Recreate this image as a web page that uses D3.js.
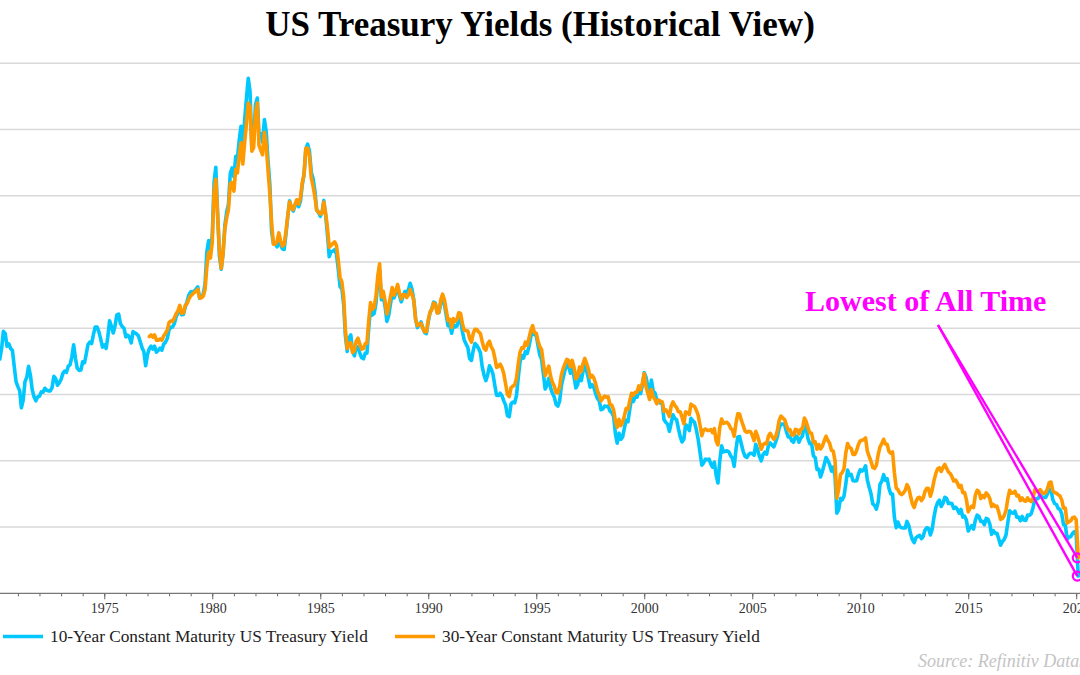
<!DOCTYPE html>
<html>
<head>
<meta charset="utf-8">
<script src="https://cdn.jsdelivr.net/npm/d3@7"></script>
<style>
  html, body { margin: 0; padding: 0; background: #fff; }
  svg { display: block; }
</style>
</head>
<body>
<svg id="chart" width="1080" height="675"></svg>
<script>
// ---------------- DATA ----------------
const titleText = "US Treasury Yields (Historical View)";
const seriesNames = ["10-Year Constant Maturity US Treasury Yield", "30-Year Constant Maturity US Treasury Yield"];
const seriesColors = ["#00c8ff", "#ff9900"];
const annotationText = "Lowest of All Time";
const sourceText = "Source: Refinitiv Datastream";

const tenYearStart = "1970-01-01";   // monthly values from this month
const thirtyYearStart = "1977-02-01"; // monthly values from this month
const lastDate = "2020-02-05";        // final (record-low) reading
const tenYearLast = 0.52;
const thirtyYearLast = 1.07;

const yTicks = [2, 4, 6, 8, 10, 12, 14, 16];
const xMajorYears = [1975, 1980, 1985, 1990, 1995, 2000, 2005, 2010, 2015, 2020];

const tenYear = [
  7.79, 7.24, 7.07, 7.39, 7.91, 7.84, 7.46, 7.53, 7.39, 7.33, 6.84, 6.39, // 1970
  6.24, 6.11, 5.60, 5.83, 6.39, 6.52, 6.85, 6.58, 6.14, 5.93, 5.81, 5.93, // 1971
  5.95, 6.08, 6.07, 6.19, 6.13, 6.11, 6.11, 6.21, 6.55, 6.48, 6.28, 6.36, // 1972
  6.46, 6.64, 6.71, 6.67, 6.85, 6.90, 7.13, 7.50, 7.09, 6.79, 6.73, 6.74, // 1973
  6.99, 6.96, 7.21, 7.51, 7.58, 7.54, 7.81, 8.04, 8.04, 7.90, 7.68, 7.43, // 1974
  7.50, 7.39, 7.73, 8.23, 8.06, 7.86, 8.06, 8.40, 8.43, 8.14, 8.05, 8.00, // 1975
  7.74, 7.79, 7.73, 7.56, 7.90, 7.86, 7.83, 7.77, 7.59, 7.41, 7.29, 6.87, // 1976
  7.21, 7.39, 7.46, 7.37, 7.46, 7.28, 7.33, 7.40, 7.34, 7.52, 7.58, 7.69, // 1977
  7.96, 8.03, 8.04, 8.15, 8.35, 8.46, 8.64, 8.41, 8.42, 8.64, 8.81, 9.01, // 1978
  9.10, 9.10, 9.12, 9.18, 9.25, 8.91, 8.95, 9.03, 9.33, 10.30, 10.65, 10.39, // 1979
  10.80, 12.41, 12.86, 11.47, 10.18, 9.78, 10.25, 11.10, 11.51, 11.75, 12.68, 12.84, // 1980
  12.57, 13.19, 13.12, 13.68, 14.10, 13.47, 14.28, 14.94, 15.55, 15.15, 13.39, 13.72, // 1981
  14.75, 14.95, 13.86, 13.87, 13.62, 14.30, 13.95, 13.06, 12.34, 10.91, 10.55, 10.54, // 1982
  10.46, 10.72, 10.51, 10.40, 10.38, 10.85, 11.38, 11.85, 11.65, 11.54, 11.69, 11.83, // 1983
  11.67, 11.84, 12.32, 12.63, 13.41, 13.56, 13.36, 12.72, 12.52, 12.16, 11.57, 11.50, // 1984
  11.38, 11.51, 11.86, 11.43, 10.85, 10.16, 10.31, 10.33, 10.37, 10.24, 9.78, 9.26, // 1985
  9.19, 8.70, 7.78, 7.30, 7.71, 7.80, 7.30, 7.17, 7.45, 7.43, 7.25, 7.11, // 1986
  7.08, 7.25, 7.25, 8.02, 8.61, 8.40, 8.45, 8.76, 9.42, 9.75, 8.86, 8.99, // 1987
  8.67, 8.21, 8.37, 8.72, 9.09, 8.92, 9.06, 9.26, 8.98, 8.80, 8.96, 9.11, // 1988
  9.09, 9.17, 9.36, 9.18, 8.86, 8.28, 8.02, 8.11, 8.19, 8.01, 7.87, 7.84, // 1989
  8.21, 8.47, 8.59, 8.79, 8.76, 8.48, 8.47, 8.75, 8.89, 8.72, 8.39, 8.08, // 1990
  8.09, 7.85, 8.11, 8.04, 8.07, 8.28, 8.27, 7.90, 7.65, 7.53, 7.42, 7.09, // 1991
  7.03, 7.34, 7.54, 7.48, 7.39, 7.26, 6.84, 6.59, 6.42, 6.59, 6.87, 6.77, // 1992
  6.60, 6.26, 5.98, 5.97, 6.04, 5.96, 5.81, 5.68, 5.36, 5.33, 5.72, 5.77, // 1993
  5.75, 5.97, 6.48, 6.97, 7.18, 7.10, 7.30, 7.24, 7.46, 7.74, 7.96, 7.81, // 1994
  7.78, 7.47, 7.20, 7.06, 6.63, 6.17, 6.28, 6.49, 6.20, 6.04, 5.93, 5.71, // 1995
  5.65, 5.81, 6.27, 6.51, 6.74, 6.91, 6.87, 6.64, 6.83, 6.53, 6.20, 6.30, // 1996
  6.58, 6.42, 6.69, 6.89, 6.71, 6.49, 6.22, 6.30, 6.21, 6.03, 5.88, 5.81, // 1997
  5.54, 5.57, 5.65, 5.64, 5.65, 5.50, 5.46, 5.34, 4.81, 4.53, 4.83, 4.65, // 1998
  4.72, 5.00, 5.23, 5.18, 5.54, 5.90, 5.79, 5.94, 5.92, 6.11, 6.03, 6.28, // 1999
  6.66, 6.52, 6.26, 5.99, 6.44, 6.10, 6.05, 5.83, 5.80, 5.74, 5.72, 5.24, // 2000
  5.16, 5.10, 4.89, 5.14, 5.39, 5.28, 5.24, 4.97, 4.73, 4.57, 4.65, 5.09, // 2001
  5.04, 4.91, 5.28, 5.21, 5.16, 4.93, 4.65, 4.26, 3.87, 3.94, 4.05, 4.03, // 2002
  4.05, 3.90, 3.81, 3.96, 3.57, 3.33, 3.98, 4.45, 4.27, 4.29, 4.30, 4.27, // 2003
  4.15, 4.08, 3.83, 4.35, 4.72, 4.73, 4.50, 4.28, 4.13, 4.10, 4.19, 4.23, // 2004
  4.22, 4.17, 4.50, 4.34, 4.14, 4.00, 4.18, 4.26, 4.20, 4.46, 4.54, 4.47, // 2005
  4.42, 4.57, 4.72, 4.99, 5.11, 5.11, 5.09, 4.88, 4.72, 4.73, 4.60, 4.56, // 2006
  4.76, 4.72, 4.56, 4.69, 4.75, 5.10, 5.00, 4.67, 4.52, 4.53, 4.15, 4.10, // 2007
  3.74, 3.74, 3.51, 3.68, 3.88, 4.10, 4.01, 3.89, 3.69, 3.81, 3.53, 2.42, // 2008
  2.52, 2.87, 2.82, 2.93, 3.29, 3.72, 3.56, 3.59, 3.40, 3.39, 3.40, 3.59, // 2009
  3.73, 3.69, 3.73, 3.85, 3.42, 3.20, 3.01, 2.70, 2.65, 2.54, 2.76, 3.29, // 2010
  3.39, 3.58, 3.41, 3.46, 3.17, 3.00, 3.00, 2.30, 1.98, 2.15, 2.01, 1.98, // 2011
  1.97, 1.97, 2.17, 2.05, 1.80, 1.62, 1.53, 1.68, 1.72, 1.75, 1.65, 1.72, // 2012
  1.91, 1.98, 1.96, 1.76, 1.93, 2.30, 2.58, 2.74, 2.81, 2.62, 2.72, 2.90, // 2013
  2.86, 2.71, 2.72, 2.71, 2.56, 2.60, 2.54, 2.42, 2.53, 2.30, 2.33, 2.21, // 2014
  1.88, 1.98, 2.04, 1.94, 2.20, 2.36, 2.32, 2.17, 2.17, 2.07, 2.26, 2.24, // 2015
  2.09, 1.78, 1.89, 1.81, 1.81, 1.64, 1.45, 1.56, 1.63, 1.76, 2.14, 2.49, // 2016
  2.43, 2.42, 2.48, 2.30, 2.30, 2.19, 2.32, 2.21, 2.20, 2.36, 2.35, 2.40, // 2017
  2.58, 2.86, 2.84, 2.87, 2.98, 2.91, 2.89, 2.89, 3.00, 3.15, 3.12, 2.83, // 2018
  2.71, 2.68, 2.57, 2.53, 2.40, 2.07, 2.06, 1.63, 1.70, 1.71, 1.81, 1.86, // 2019
  1.76 // 2020
];

const thirtyYear = [
  7.75, 7.80, 7.73, 7.80, 7.64, 7.64, 7.68, 7.64, 7.77, 7.85, 7.94, // 1977 (Feb-Dec)
  8.18, 8.22, 8.21, 8.32, 8.44, 8.53, 8.69, 8.45, 8.47, 8.69, 8.75, 8.88, // 1978
  8.98, 9.03, 9.08, 9.12, 9.18, 8.92, 8.92, 8.97, 9.17, 9.85, 10.30, 10.12, // 1979
  10.60, 12.13, 12.50, 11.40, 10.36, 9.81, 10.24, 11.00, 11.34, 11.59, 12.37, 12.40, // 1980
  12.14, 12.80, 12.69, 13.20, 13.60, 12.96, 13.59, 14.17, 14.80, 14.68, 13.35, 13.45, // 1981
  14.50, 14.80, 13.53, 13.37, 13.24, 13.92, 13.55, 12.77, 12.07, 11.17, 10.54, 10.54, // 1982
  10.63, 10.88, 10.63, 10.48, 10.53, 10.93, 11.40, 11.82, 11.63, 11.58, 11.75, 11.88, // 1983
  11.75, 11.95, 12.38, 12.65, 13.43, 13.44, 13.21, 12.54, 12.29, 11.98, 11.56, 11.52, // 1984
  11.45, 11.47, 11.81, 11.47, 11.05, 10.45, 10.50, 10.56, 10.61, 10.50, 10.06, 9.54, // 1985
  9.40, 8.93, 7.96, 7.39, 7.52, 7.57, 7.27, 7.33, 7.62, 7.70, 7.52, 7.37, // 1986
  7.39, 7.54, 7.55, 8.25, 8.78, 8.57, 8.64, 8.97, 9.59, 9.95, 8.95, 9.12, // 1987
  8.83, 8.43, 8.63, 8.95, 9.23, 9.00, 9.14, 9.32, 9.06, 8.89, 9.02, 9.01, // 1988
  8.93, 9.01, 9.17, 9.03, 8.83, 8.27, 8.08, 8.12, 8.15, 8.00, 7.90, 7.90, // 1989
  8.26, 8.50, 8.56, 8.76, 8.73, 8.46, 8.50, 8.86, 9.03, 8.86, 8.54, 8.24, // 1990
  8.27, 8.03, 8.29, 8.21, 8.27, 8.47, 8.45, 8.14, 7.95, 7.93, 7.92, 7.70, // 1991
  7.58, 7.85, 7.97, 7.96, 7.89, 7.84, 7.60, 7.39, 7.34, 7.53, 7.61, 7.44, // 1992
  7.34, 7.09, 6.82, 6.85, 6.92, 6.81, 6.63, 6.32, 6.00, 5.94, 6.21, 6.25, // 1993
  6.29, 6.49, 6.91, 7.27, 7.41, 7.40, 7.58, 7.49, 7.71, 7.94, 8.08, 7.87, // 1994
  7.85, 7.61, 7.45, 7.36, 6.95, 6.57, 6.72, 6.86, 6.55, 6.37, 6.26, 6.06, // 1995
  6.05, 6.24, 6.60, 6.79, 6.93, 7.06, 7.03, 6.84, 7.03, 6.81, 6.48, 6.55, // 1996
  6.83, 6.69, 6.93, 7.09, 6.94, 6.77, 6.51, 6.58, 6.50, 6.33, 6.11, 5.99, // 1997
  5.81, 5.89, 5.95, 5.92, 5.93, 5.70, 5.68, 5.54, 5.20, 5.01, 5.25, 5.06, // 1998
  5.16, 5.37, 5.58, 5.55, 5.81, 6.04, 5.98, 6.07, 6.07, 6.26, 6.15, 6.35, // 1999
  6.63, 6.23, 6.05, 5.85, 6.15, 5.93, 5.85, 5.72, 5.83, 5.80, 5.78, 5.49, // 2000
  5.54, 5.45, 5.34, 5.65, 5.78, 5.67, 5.61, 5.48, 5.48, 5.32, 5.12, 5.48, // 2001
  5.45, 5.40, 5.71, 5.67, 5.64, 5.52, 5.38, 5.08, 4.76, 4.93, 4.96, 4.92, // 2002
  4.92, 4.94, 4.85, 4.97, 4.60, 4.48, 5.00, 5.26, 5.13, 5.15, 5.16, 5.10, // 2003
  4.98, 4.93, 4.74, 5.14, 5.42, 5.41, 5.22, 5.06, 4.90, 4.86, 4.89, 4.88, // 2004
  4.77, 4.61, 4.89, 4.75, 4.56, 4.35, 4.48, 4.53, 4.51, 4.74, 4.83, 4.73, // 2005
  4.65, 4.73, 4.91, 5.22, 5.35, 5.29, 5.25, 5.08, 4.93, 4.94, 4.78, 4.78, // 2006
  4.95, 4.93, 4.81, 4.95, 4.98, 5.29, 5.19, 5.00, 4.84, 4.83, 4.56, 4.57, // 2007
  4.35, 4.49, 4.36, 4.44, 4.60, 4.74, 4.62, 4.53, 4.32, 4.29, 4.00, 2.87, // 2008
  3.13, 3.59, 3.64, 3.76, 4.23, 4.52, 4.41, 4.37, 4.19, 4.19, 4.31, 4.49, // 2009
  4.60, 4.62, 4.64, 4.69, 4.29, 4.13, 3.99, 3.80, 3.77, 3.87, 4.19, 4.42, // 2010
  4.52, 4.65, 4.51, 4.50, 4.29, 4.23, 4.27, 3.65, 3.18, 3.13, 3.02, 2.98, // 2011
  3.03, 3.11, 3.28, 3.18, 2.93, 2.70, 2.59, 2.77, 2.88, 2.90, 2.80, 2.88, // 2012
  3.08, 3.17, 3.16, 2.93, 3.11, 3.40, 3.61, 3.76, 3.79, 3.68, 3.80, 3.89, // 2013
  3.77, 3.66, 3.62, 3.52, 3.39, 3.42, 3.33, 3.20, 3.26, 3.04, 3.04, 2.83, // 2014
  2.46, 2.57, 2.63, 2.59, 2.96, 3.11, 3.07, 2.86, 2.95, 2.89, 3.03, 2.97, // 2015
  2.86, 2.62, 2.68, 2.62, 2.63, 2.45, 2.23, 2.26, 2.35, 2.50, 2.86, 3.11, // 2016
  3.02, 3.03, 3.08, 2.94, 2.96, 2.80, 2.88, 2.80, 2.78, 2.88, 2.80, 2.77, // 2017
  2.88, 3.13, 3.09, 3.07, 3.13, 3.05, 3.01, 3.04, 3.15, 3.34, 3.36, 3.10, // 2018
  3.04, 3.02, 2.98, 2.94, 2.82, 2.57, 2.57, 2.12, 2.16, 2.19, 2.28, 2.30, // 2019
  2.22 // 2020
];

// ---------------- BUILD ----------------
const parse = d3.timeParse("%Y-%m-%d");
function monthly(startStr, values, lastStr, lastVal) {
  const s = parse(startStr);
  const pts = values.map((v, i) => ({ date: d3.timeMonth.offset(s, i), value: v }));
  pts.push({ date: parse(lastStr), value: lastVal });
  return pts;
}
const series = [
  { name: seriesNames[0], color: seriesColors[0], data: monthly(tenYearStart, tenYear, lastDate, tenYearLast) },
  { name: seriesNames[1], color: seriesColors[1], data: monthly(thirtyYearStart, thirtyYear, lastDate, thirtyYearLast) }
];

const W = 1080, H = 675;
const svg = d3.select("#chart");
svg.append("rect").attr("width", W).attr("height", H).attr("fill", "#fff");

const serif = "'Liberation Serif', 'Times New Roman', Times, serif";

const x = d3.scaleTime()
  .domain([new Date(1970, 0, 1), new Date(2020, 0, 1)])
  .range([-3.7, 1076.2]);
const y = d3.scaleLinear().domain([0, 16]).range([593.3, 63.3]);

// gridlines
svg.append("g").selectAll("line").data(yTicks).join("line")
  .attr("x1", 0).attr("x2", W)
  .attr("y1", d => y(d)).attr("y2", d => y(d))
  .attr("stroke", "#d9d9d9").attr("stroke-width", 1.5);

// x axis
const axisY = y(0);
const gx = svg.append("g").attr("transform", `translate(0,${axisY})`);
const majorDates = xMajorYears.map(yr => new Date(yr, 0, 1));
gx.call(d3.axisBottom(x).ticks(d3.timeYear.every(1)).tickSize(3).tickFormat(""))
  .call(g => g.select(".domain").remove())
  .call(g => g.selectAll(".tick line").attr("stroke", "#666"));
gx.append("g").call(d3.axisBottom(x).tickValues(majorDates).tickSize(6).tickPadding(5)
    .tickFormat(d3.timeFormat("%Y")))
  .call(g => g.select(".domain").remove())
  .call(g => g.selectAll(".tick line").attr("stroke", "#666"))
  .call(g => g.selectAll(".tick text").attr("font-family", serif).attr("font-size", 14)
    .attr("fill", "#333").attr("dy", "0.62em"));
svg.append("line").attr("x1", 0).attr("x2", W).attr("y1", axisY).attr("y2", axisY)
  .attr("stroke", "#777").attr("stroke-width", 1.2);

// lines
const line = d3.line().x(d => x(d.date)).y(d => y(d.value));
svg.append("g").selectAll("path").data(series).join("path")
  .attr("d", d => line(d.data))
  .attr("fill", "none")
  .attr("stroke", d => d.color)
  .attr("stroke-width", 3.6)
  .attr("stroke-linejoin", "round")
  .attr("stroke-linecap", "round");

// title
svg.append("text").attr("x", 540).attr("y", 36).attr("text-anchor", "middle")
  .attr("font-family", serif).attr("font-weight", "bold").attr("font-size", 35)
  .attr("fill", "#000").text(titleText);

// annotation
const ann = svg.append("g");
const annStart = { x: 938, y: 325 };
const lastPts = series.map(s => s.data[s.data.length - 1]);
ann.selectAll("line").data(lastPts).join("line")
  .attr("x1", annStart.x).attr("y1", annStart.y)
  .attr("x2", d => x(d.date) - 1).attr("y2", d => y(d.value))
  .attr("stroke", "#ff00ff").attr("stroke-width", 2.4);
ann.selectAll("circle").data(lastPts).join("circle")
  .attr("cx", d => x(d.date) - 1).attr("cy", d => y(d.value)).attr("r", 4.5)
  .attr("fill", "none").attr("stroke", "#ff00ff").attr("stroke-width", 2.2);
ann.append("text").attr("x", 805).attr("y", 311)
  .attr("font-family", serif).attr("font-weight", "bold").attr("font-size", 30)
  .attr("fill", "#ff00ff").text(annotationText);

// legend
const leg = svg.append("g");
const legX = [3, 395];
series.forEach((s, i) => {
  leg.append("line").attr("x1", legX[i]).attr("x2", legX[i] + 40)
    .attr("y1", 636.5).attr("y2", 636.5)
    .attr("stroke", s.color).attr("stroke-width", 3.6);
  leg.append("text").attr("x", legX[i] + 47).attr("y", 642)
    .attr("font-family", serif).attr("font-size", 17.3).attr("fill", "#222")
    .text(s.name);
});

// source
svg.append("text").attr("x", 918).attr("y", 667)
  .attr("font-family", serif).attr("font-style", "italic").attr("font-size", 18)
  .attr("fill", "#c4c4c4").text(sourceText);
</script>
</body>
</html>
